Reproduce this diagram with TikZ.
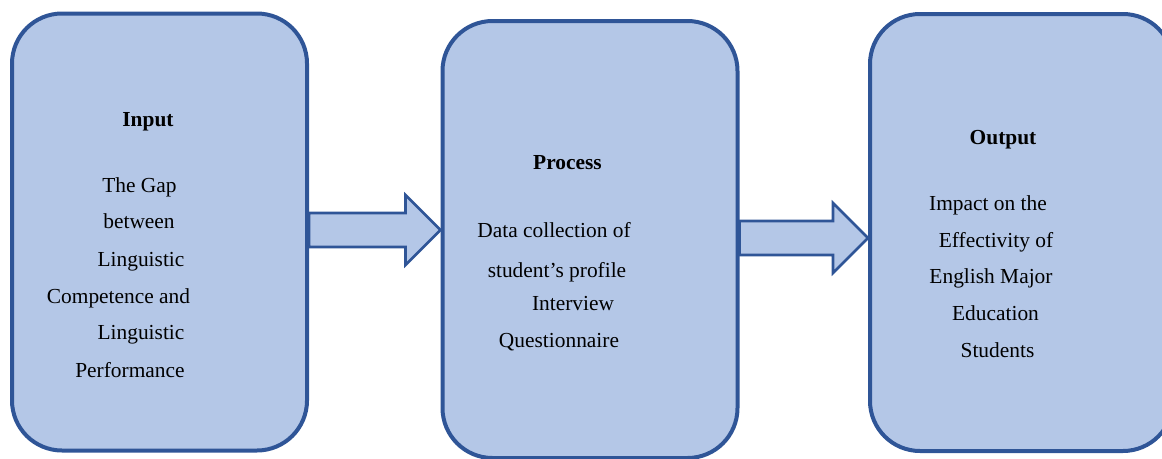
\documentclass[tikz,border=0pt]{standalone}
\usepackage{fontspec}
\setmainfont{Liberation Serif}
\usetikzlibrary{calc,backgrounds}
\definecolor{boxfill}{HTML}{B4C7E7}
\definecolor{boxline}{HTML}{2F5597}
\tikzset{
	stage/.style={draw=boxline,fill=boxfill,line width=4pt,rounded corners=50pt,
		minimum width=295pt,minimum height=437pt,inner sep=0pt},
	blockarrow/.style={draw=boxline,fill=boxfill,line width=2.6pt,line join=miter},
	txt/.style={anchor=base,inner sep=0pt,font=\fontsize{21.4}{25}\selectfont},
	title/.style={txt,font=\fontsize{21.4}{25}\selectfont\bfseries}
}
\begin{document}
\begin{tikzpicture}[x=1pt,y=-1pt]
	\useasboundingbox (0,0) rectangle (1162,458);
	% the three stages
	\node[stage] (input) at (159.5,232) {};
	\node[stage] (process) at (590,239.5) {};
	\node[stage,minimum width=303pt] (output) at (1021.5,232.5) {};
	% texts of the input box
	\node[title] (intitle) at (148,126) {Input};
	\node[txt] (in1) at (139.5,192) {The Gap};
	\node[txt] (in2) at (139,228) {between};
	\node[txt] (in3) at (141,266) {Linguistic};
	\node[txt] (in4) at (118.5,303) {Competence and};
	\node[txt] (in5) at (141,339) {Linguistic};
	\node[txt] (in6) at (130,377) {Performance};
	% texts of the process box
	\node[title] (prtitle) at (567.5,169) {Process};
	\node[txt] (pr1) at (554,237) {Data collection of};
	\node[txt] (pr2) at (557,277) {student’s profile};
	\node[txt] (pr3) at (573,310) {Interview};
	\node[txt] (pr4) at (559,347) {Questionnaire};
	% texts of the output box
	\node[title] (outtitle) at (1003,144) {Output};
	\node[txt] (out1) at (988,210) {Impact on the};
	\node[txt] (out2) at (996,247) {Effectivity of};
	\node[txt] (out3) at (991,283) {English Major};
	\node[txt] (out4) at (995.5,320) {Education};
	\node[txt] (out5) at (997.5,357) {Students};
	% block arrows between the stages
	\path (process.west) ++(0,-9.5) coordinate (tip1);
	\path (output.west) ++(0,5.5) coordinate (tip2);
	\begin{scope}[on background layer]
		\foreach \from/\tip in {input/tip1,process/tip2}
			\draw[blockarrow] ($(\from.east|-\tip)+(0,-17)$) -- ($(\tip)+(-35,-17)$)
				-- ($(\tip)+(-35,-35)$) -- (\tip) -- ($(\tip)+(-35,35)$)
				-- ($(\tip)+(-35,17)$) -- ($(\from.east|-\tip)+(0,17)$) -- cycle;
	\end{scope}
\end{tikzpicture}
\end{document}
